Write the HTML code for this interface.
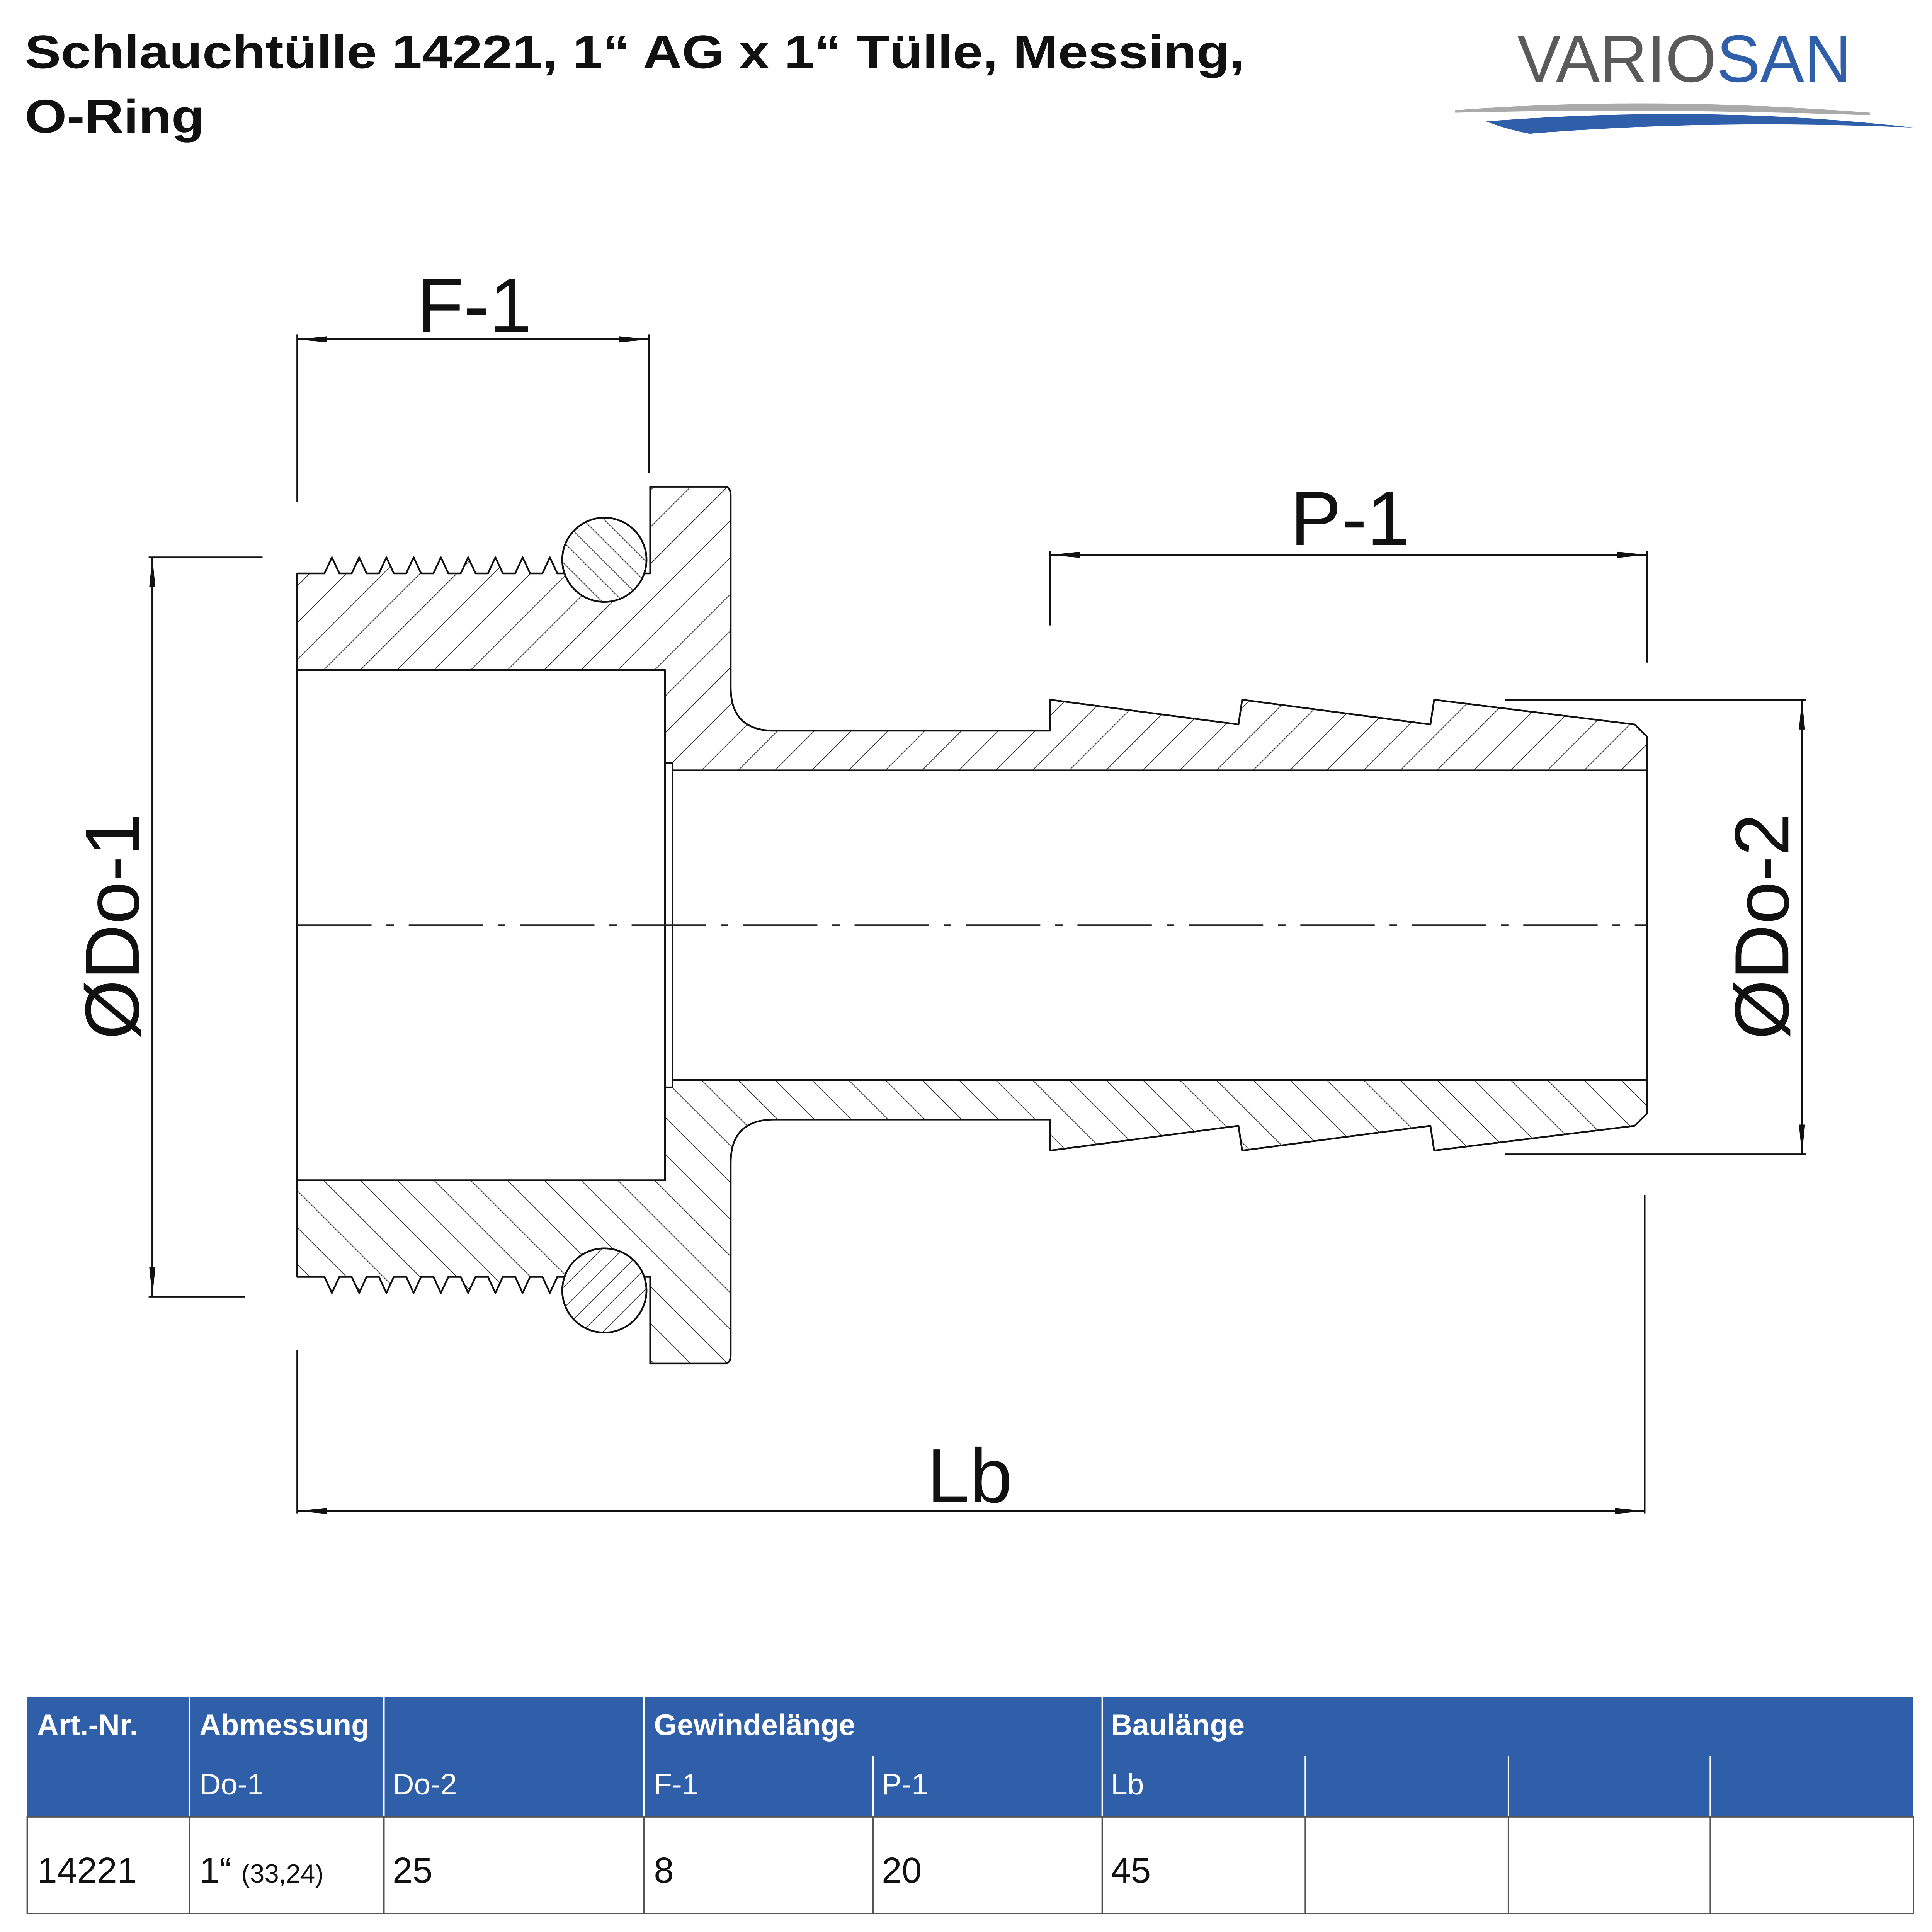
<!DOCTYPE html>
<html><head><meta charset="utf-8"><style>
html,body{margin:0;padding:0;background:#fff;overflow:hidden;width:100%;height:100%;}
svg{display:block;width:100vw;height:100vh;}
</style></head><body>
<svg viewBox="0 0 1560 1560" preserveAspectRatio="none" xmlns="http://www.w3.org/2000/svg" font-family="Liberation Sans, Arial, sans-serif">
<defs>
<pattern id="h1" patternUnits="userSpaceOnUse" width="21" height="21" patternTransform="rotate(45)">
<line x1="0" y1="0" x2="0" y2="21" stroke="#222" stroke-width="1.1"/>
</pattern>
<pattern id="h2" patternUnits="userSpaceOnUse" width="12" height="12" patternTransform="rotate(-45)">
<line x1="0" y1="0" x2="0" y2="12" stroke="#222" stroke-width="1.1"/>
</pattern>
<marker id="ar" markerWidth="24" markerHeight="8" refX="24" refY="4" orient="auto" markerUnits="userSpaceOnUse">
<path d="M0,1.5 L24,4 L0,6.5 Z" fill="#111"/>
</marker>
</defs>
<rect width="1560" height="1560" fill="#fff"/>
<text x="20" y="55" font-size="38" font-weight="bold" fill="#111" textLength="985" lengthAdjust="spacingAndGlyphs">Schlauchtülle 14221, 1“ AG x 1“ Tülle, Messing,</text>
<text x="20" y="107" font-size="38" font-weight="bold" fill="#111" textLength="145" lengthAdjust="spacingAndGlyphs">O-Ring</text>
<text x="1225" y="66" font-size="54" fill="#5a5a5a" textLength="270" lengthAdjust="spacingAndGlyphs">VARIO<tspan fill="#2f5fa8">SAN</tspan></text>
<path d="M1175,90 Q1330,78 1510,92 Q1330,86 1175,90 Z" fill="#aaa" stroke="#aaa" stroke-width="2"/>
<path d="M1200,98 Q1380,84 1545,103 Q1380,96 1235,108 Q1215,104 1200,98 Z" fill="#2f5fa8"/>

<g id="half" stroke="#111" stroke-width="1.4" stroke-linejoin="round">
<path fill="url(#h1)" d="M240,463 L262,463 L268,450 L274,463 L284,463 L290,450 L296,463 L306,463 L312,450 L318,463 L328,463 L334,450 L340,463 L350,463 L356,450 L362,463 L372,463 L378,450 L384,463 L394,463 L400,450 L406,463 L416,463 L422,450 L428,463 L438,463 L444,450 L450,463 L525,463 L525,393 L585,393 Q590,393 590,400 L590,555 Q590,590 625,590 L848,590 L848,565 L1000,585 L1003,565 L1155,585 L1158,565 L1320,585 L1330,595 L1330,622 L543,622 L543,616 L537,616 L537,541 L240,541 Z"/>
<circle cx="488" cy="452" r="34" fill="#fff"/>
<circle cx="488" cy="452" r="34" fill="url(#h2)"/>
<line x1="543" y1="622" x2="543" y2="747" />
</g>
<use href="#half" transform="translate(0,1494) scale(1,-1)"/>
<g stroke="#111" stroke-width="1.4" fill="none">
<line x1="240" y1="541" x2="240" y2="953"/>
<line x1="537" y1="541" x2="537" y2="953"/>
<line x1="1330" y1="622" x2="1330" y2="873"/>
</g>
<line x1="240" y1="747" x2="1330" y2="747" stroke="#222" stroke-width="1.2" stroke-dasharray="60,12,6,12"/>

<g stroke="#111" stroke-width="1.3" fill="none">
<line x1="240" y1="270" x2="240" y2="405"/>
<line x1="524" y1="270" x2="524" y2="382"/>
<line x1="240" y1="274" x2="524" y2="274" marker-end="url(#ar)"/>
<line x1="524" y1="274" x2="240" y2="274" marker-end="url(#ar)"/>
<line x1="848" y1="445" x2="848" y2="505"/>
<line x1="1330" y1="445" x2="1330" y2="535"/>
<line x1="848" y1="448" x2="1330" y2="448" marker-end="url(#ar)"/>
<line x1="1330" y1="448" x2="848" y2="448" marker-end="url(#ar)"/>
<line x1="240" y1="1090" x2="240" y2="1222"/>
<line x1="1328" y1="965" x2="1328" y2="1222"/>
<line x1="240" y1="1220" x2="1328" y2="1220" marker-end="url(#ar)"/>
<line x1="1328" y1="1220" x2="240" y2="1220" marker-end="url(#ar)"/>
<line x1="120" y1="450" x2="212" y2="450"/>
<line x1="120" y1="1047" x2="198" y2="1047"/>
<line x1="123" y1="450" x2="123" y2="1047" marker-end="url(#ar)"/>
<line x1="123" y1="1047" x2="123" y2="450" marker-end="url(#ar)"/>
<line x1="1215" y1="565" x2="1458" y2="565"/>
<line x1="1215" y1="932" x2="1458" y2="932"/>
<line x1="1455" y1="565" x2="1455" y2="932" marker-end="url(#ar)"/>
<line x1="1455" y1="932" x2="1455" y2="565" marker-end="url(#ar)"/>
</g>
<g font-size="62" fill="#111" text-anchor="middle">
<text x="383" y="268">F-1</text>
<text x="1090" y="440">P-1</text>
<text x="783" y="1213">Lb</text>
<text transform="translate(112,748) rotate(-90)">ØDo-1</text>
<text transform="translate(1444,748) rotate(-90)">ØDo-2</text>
</g>

<rect x="22" y="1370" width="1523" height="97" fill="#2f5fa8"/>
<g stroke="#fff" stroke-width="1.2">
<line x1="153" y1="1370" x2="153" y2="1467"/>
<line x1="310" y1="1370" x2="310" y2="1467"/>
<line x1="520" y1="1370" x2="520" y2="1467"/>
<line x1="705" y1="1418" x2="705" y2="1467"/>
<line x1="890" y1="1370" x2="890" y2="1467"/>
<line x1="1054" y1="1418" x2="1054" y2="1467"/>
<line x1="1218" y1="1418" x2="1218" y2="1467"/>
<line x1="1381" y1="1418" x2="1381" y2="1467"/>
</g>
<g stroke="#555" stroke-width="1.2" fill="none">
<rect x="22" y="1467" width="1523" height="78"/>
<line x1="153" y1="1467" x2="153" y2="1545"/>
<line x1="310" y1="1467" x2="310" y2="1545"/>
<line x1="520" y1="1467" x2="520" y2="1545"/>
<line x1="705" y1="1467" x2="705" y2="1545"/>
<line x1="890" y1="1467" x2="890" y2="1545"/>
<line x1="1054" y1="1467" x2="1054" y2="1545"/>
<line x1="1218" y1="1467" x2="1218" y2="1545"/>
<line x1="1381" y1="1467" x2="1381" y2="1545"/>
</g>
<g fill="#fff" font-size="24">
<text x="30" y="1401" font-weight="bold">Art.-Nr.</text>
<text x="161" y="1401" font-weight="bold">Abmessung</text>
<text x="528" y="1401" font-weight="bold">Gewindelänge</text>
<text x="897" y="1401" font-weight="bold">Baulänge</text>
<text x="161" y="1449">Do-1</text>
<text x="317" y="1449">Do-2</text>
<text x="528" y="1449">F-1</text>
<text x="712" y="1449">P-1</text>
<text x="897" y="1449">Lb</text>
</g>
<g fill="#111" font-size="29">
<text x="30" y="1520">14221</text>
<text x="161" y="1520">1“ <tspan font-size="21">(33,24)</tspan></text>
<text x="317" y="1520">25</text>
<text x="528" y="1520">8</text>
<text x="712" y="1520">20</text>
<text x="897" y="1520">45</text>
</g>
</svg>
</body></html>
